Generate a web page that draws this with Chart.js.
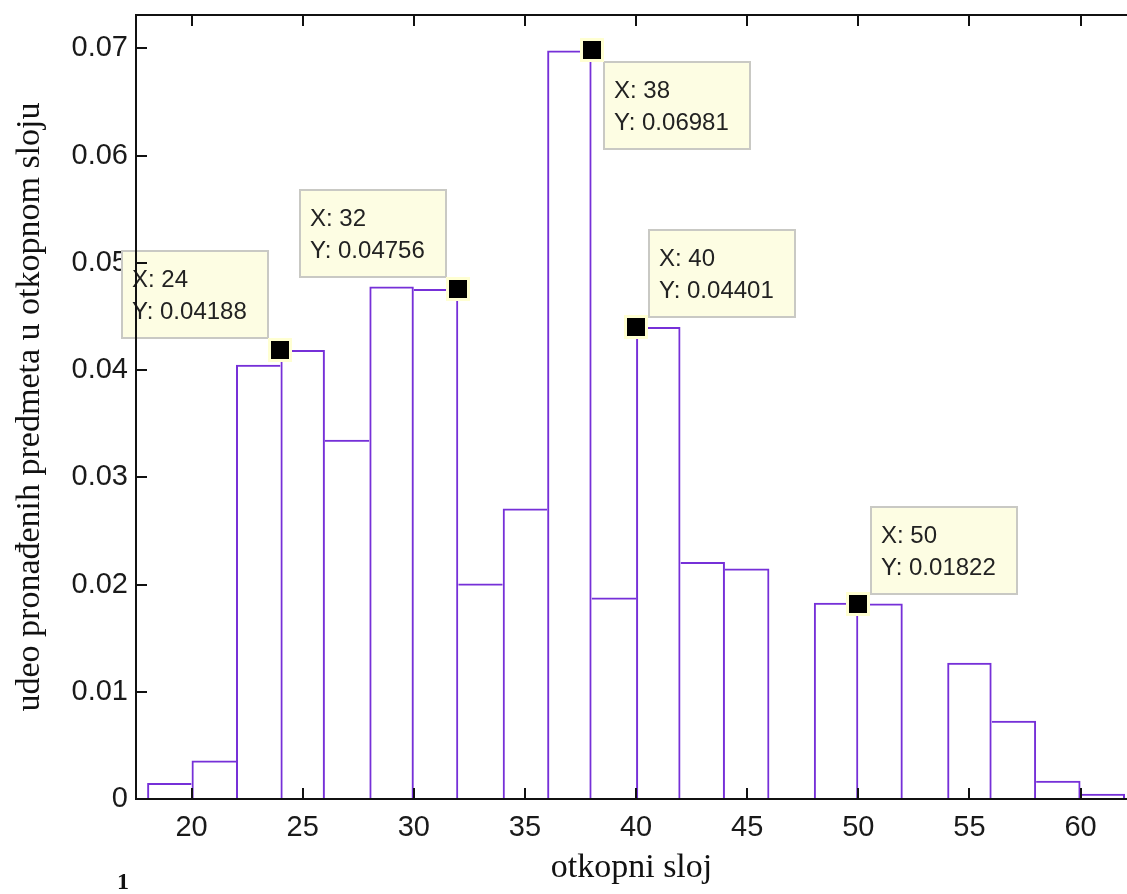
<!DOCTYPE html>
<html>
<head>
    <title>udeo pronađenih predmeta u otkopnom sloju</title>
    <script src="https://cdn.jsdelivr.net/npm/chart.js"></script>
    <style>
        body { margin: 0; background: #fff; }
        #wrap { position: relative; width: 1127px; height: 894px; }
        #figNo { position: absolute; left: 117px; top: 868px; font: bold 24px "Liberation Serif", serif; color: #111; }
    </style>
</head>
<body>
    <div id="wrap">
        <canvas id="histChart" width="1127" height="894"></canvas>
        <div id="figNo">1</div>
    </div>

    <script>
        // histogram bins (width 2), centre of each bin
        const binCenters = [19, 21, 23, 25, 27, 29, 31, 33, 35, 37, 39, 41, 43, 45, 47, 49, 51, 53, 55, 57, 59, 61];
        const shares = [0.0015, 0.0036, 0.0405, 0.04188, 0.0335, 0.0478, 0.04756, 0.0201, 0.0271, 0.06981, 0.0188,
                        0.04401, 0.0221, 0.0215, 0, 0.0183, 0.01822, 0, 0.0127, 0.0073, 0.0017, 0.0005];

        const xTicks = [20, 25, 30, 35, 40, 45, 50, 55, 60];
        const yTicks = [0, 0.01, 0.02, 0.03, 0.04, 0.05, 0.06, 0.07];

        // data tips
        const tipX = [24, 32, 38, 40, 50];
        const tipY = [0.04188, 0.04756, 0.06981, 0.04401, 0.01822];
        const tipSide = ['upLeft', 'upLeft', 'downRight', 'upRight', 'upRight'];

        const purple = '#7630d8';

        // frame, inward ticks and data tips (MATLAB look)
        const matlabLook = {
            id: 'matlabLook',
            afterDraw(chart) {
                const ctx = chart.ctx;
                const area = chart.chartArea;
                const xs = chart.scales.x, ys = chart.scales.y;
                ctx.save();

                // data tips
                const boxW = 146, boxH = 87;
                tipX.forEach((xv, i) => {
                    const mx = Math.round(xs.getPixelForValue(xv));
                    const my = Math.round(ys.getPixelForValue(tipY[i]));
                    let bx, by;
                    if (tipSide[i] === 'upLeft') { bx = mx - 158; by = my - 99; }
                    else if (tipSide[i] === 'downRight') { bx = mx + 12; by = my + 12; }
                    else { bx = mx + 13; by = my - 97; }
                    ctx.fillStyle = '#fdfde3';
                    ctx.fillRect(bx, by, boxW, boxH);
                    ctx.strokeStyle = '#c9c9c4';
                    ctx.lineWidth = 2;
                    ctx.strokeRect(bx, by, boxW, boxH);
                    ctx.fillStyle = '#222';
                    ctx.font = '24px "Liberation Sans", Arial, sans-serif';
                    ctx.textBaseline = 'alphabetic';
                    ctx.textAlign = 'left';
                    ctx.fillText('X: ' + xv, bx + 10, by + 36);
                    ctx.fillText('Y: ' + tipY[i].toFixed(5), bx + 10, by + 68);
                    // marker
                    ctx.fillStyle = '#ffffd2';
                    ctx.fillRect(mx - 12, my - 12, 24, 24);
                    ctx.fillStyle = '#000';
                    ctx.fillRect(mx - 9, my - 9, 18, 18);
                });

                // axes frame
                ctx.strokeStyle = '#111';
                ctx.lineWidth = 2;
                ctx.beginPath();
                ctx.moveTo(area.left, area.top);
                ctx.lineTo(area.right, area.top);
                ctx.moveTo(area.left, area.top - 1);
                ctx.lineTo(area.left, area.bottom + 1);
                ctx.moveTo(area.left, area.bottom);
                ctx.lineTo(area.right, area.bottom);
                ctx.stroke();

                // inward tick marks
                ctx.beginPath();
                xTicks.forEach(v => {
                    const p = Math.round(xs.getPixelForValue(v));
                    ctx.moveTo(p, area.bottom);
                    ctx.lineTo(p, area.bottom - 11);
                    ctx.moveTo(p, area.top);
                    ctx.lineTo(p, area.top + 11);
                });
                yTicks.forEach(v => {
                    const p = Math.round(ys.getPixelForValue(v));
                    ctx.moveTo(area.left, p);
                    ctx.lineTo(area.left + 11, p);
                });
                ctx.stroke();
                ctx.restore();
            }
        };

        // a shared edge between two bars is drawn once, by the taller bar
        const val = i => (i < 0 || i >= shares.length) ? 0 : shares[i];

        const ctx = document.getElementById('histChart').getContext('2d');
        const chart = new Chart(ctx, {
            type: 'bar',
            data: {
                datasets: [{
                    data: binCenters.map((c, i) => ({ x: c, y: shares[i] })),
                    backgroundColor: 'rgba(255,255,255,0)',
                    borderColor: purple,
                    borderWidth: c => ({
                        top: 2,
                        bottom: 0,
                        left: shares[c.dataIndex] >= val(c.dataIndex - 1) ? 2 : 0,
                        right: shares[c.dataIndex] > val(c.dataIndex + 1) ? 2 : 0
                    }),
                    borderSkipped: 'start',
                    inflateAmount: 0,
                    barPercentage: 1,
                    categoryPercentage: 1
                }]
            },
            options: {
                responsive: false,
                animation: false,
                layout: { padding: { top: 15, right: 0, left: 0, bottom: 0 } },
                plugins: {
                    legend: { display: false },
                    tooltip: { enabled: false }
                },
                scales: {
                    x: {
                        type: 'linear',
                        offset: false,
                        min: 17.5,
                        max: 62.09,
                        grid: { display: false, drawTicks: false },
                        border: { display: false },
                        afterBuildTicks: s => { s.ticks = xTicks.map(v => ({ value: v })); },
                        afterFit: s => { s.height = 95; s.paddingLeft = 0; s.paddingRight = 0; },
                        ticks: {
                            padding: 12,
                            color: '#1a1a1a',
                            font: { family: '"Liberation Sans", Arial, sans-serif', size: 29 },
                            maxRotation: 0
                        },
                        title: {
                            display: true,
                            text: 'otkopni sloj',
                            color: '#111',
                            font: { family: '"Liberation Serif", "Times New Roman", serif', size: 34 },
                            padding: { bottom: 6, top: 0 }
                        }
                    },
                    y: {
                        min: 0,
                        max: 0.07311,
                        grid: { display: false, drawTicks: false },
                        border: { display: false },
                        afterBuildTicks: s => { s.ticks = yTicks.map(v => ({ value: v })); },
                        afterFit: s => { s.width = 136; s.paddingTop = 0; s.paddingBottom = 0; },
                        ticks: {
                            padding: 8,
                            color: '#1a1a1a',
                            font: { family: '"Liberation Sans", Arial, sans-serif', size: 29 },
                            callback: v => String(+v.toFixed(2))
                        },
                        title: {
                            display: true,
                            text: 'udeo pronađenih predmeta u otkopnom sloju',
                            color: '#111',
                            font: { family: '"Liberation Serif", "Times New Roman", serif', size: 34 },
                            padding: { top: 10, bottom: 0 }
                        }
                    }
                }
            },
            plugins: [matlabLook]
        });
    </script>
</body>
</html>
